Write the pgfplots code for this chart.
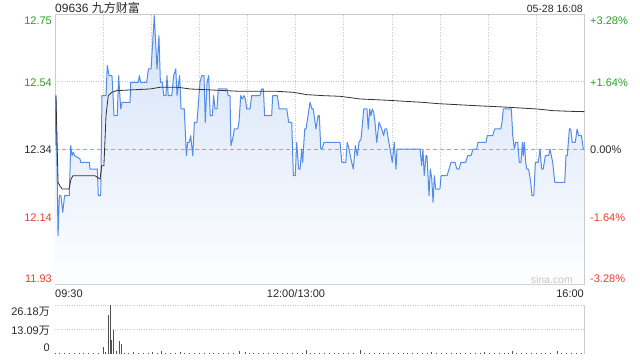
\documentclass[border=0pt]{standalone}
\usepackage{pgfplots}
\pgfplotsset{compat=1.18}
\usepackage{pgfplotstable}
\usepackage{fontspec}
\setmainfont{Liberation Sans}
\newfontfamily\cjk{Noto Sans CJK SC}
\definecolor{pline}{RGB}{82,140,232}
\definecolor{pfill}{RGB}{212,226,248}
\definecolor{avgline}{RGB}{50,50,50}
\definecolor{frame}{RGB}{204,204,204}
\definecolor{gridc}{RGB}{200,200,200}
\definecolor{basec}{RGB}{238,145,95}
\definecolor{upc}{RGB}{40,160,40}
\definecolor{downc}{RGB}{240,60,50}
\definecolor{txt}{RGB}{40,40,40}
\definecolor{volc}{RGB}{80,80,80}

\pgfplotstableread{
t p
0 12.35
0.6 12.50
1.9 12.08
2.7 12.20
3.7 12.20
4.8 12.15
6.0 12.20
8.9 12.20
9.8 12.35
10.6 12.32
11.4 12.33
12.3 12.32
15.6 12.31
16.0 12.30
21.4 12.30
21.8 12.28
26.4 12.28
27.0 12.20
28.5 12.20
29.3 12.50
31.8 12.50
32.6 12.59
33.7 12.56
35.5 12.56
36.2 12.50
36.8 12.44
38.8 12.44
39.7 12.56
40.3 12.51
41.0 12.46
41.8 12.48
46.8 12.48
47.2 12.54
51.9 12.54
52.6 12.56
53.4 12.54
57.2 12.54
58.2 12.58
59.9 12.58
61.9 12.74
63.6 12.58
64.8 12.68
65.7 12.54
66.9 12.54
67.8 12.50
69.2 12.50
69.8 12.56
70.6 12.50
72.8 12.50
74.0 12.56
75.3 12.58
76.1 12.50
77.7 12.56
78.6 12.46
80.6 12.46
81.9 12.32
82.7 12.36
83.7 12.36
84.6 12.38
85.9 12.32
86.9 12.42
88.5 12.42
90.4 12.54
91.5 12.56
92.9 12.56
93.7 12.42
94.8 12.54
95.8 12.56
96.8 12.44
98.1 12.44
98.9 12.50
99.8 12.46
101.0 12.46
101.8 12.52
107.2 12.52
108.0 12.50
109.1 12.50
109.7 12.35
111.2 12.38
111.8 12.40
113.9 12.40
114.7 12.42
115.8 12.50
116.8 12.49
117.8 12.50
118.7 12.49
119.5 12.46
121.6 12.46
122.6 12.50
127.8 12.50
128.9 12.52
129.9 12.52
130.7 12.44
135.1 12.44
135.7 12.50
138.6 12.50
139.8 12.46
144.5 12.46
145.7 12.42
147.6 12.42
148.6 12.26
149.8 12.26
150.7 12.36
151.9 12.28
152.8 12.28
153.8 12.34
154.4 12.30
155.7 12.40
156.5 12.40
159.0 12.48
160.2 12.46
161.0 12.46
162.7 12.40
164.0 12.44
164.8 12.44
165.7 12.34
166.5 12.34
167.7 12.36
177.7 12.36
178.8 12.30
181.3 12.30
182.2 12.36
183.3 12.34
184.5 12.31
186.0 12.28
187.2 12.35
188.5 12.32
189.5 12.36
190.8 12.37
191.6 12.41
192.5 12.46
194.5 12.46
195.3 12.40
196.2 12.46
197.0 12.44
197.8 12.46
198.7 12.45
199.5 12.42
200.6 12.36
202.0 12.42
203.7 12.40
204.9 12.38
205.7 12.40
206.8 12.40
207.8 12.37
208.9 12.34
210.3 12.30
211.5 12.36
212.6 12.28
213.2 12.34
227.6 12.34
228.6 12.29
229.4 12.34
230.2 12.26
231.3 12.32
231.9 12.32
233.2 12.20
234.0 12.28
234.9 12.25
235.7 12.18
236.5 12.26
237.4 12.22
240.0 12.22
240.7 12.26
244.4 12.26
245.7 12.28
246.9 12.30
249.4 12.30
250.5 12.28
251.9 12.28
253.1 12.30
256.1 12.30
257.3 12.32
259.4 12.32
260.6 12.34
262.9 12.34
263.7 12.36
268.7 12.36
269.5 12.38
272.9 12.38
274.1 12.40
277.9 12.40
278.7 12.42
279.5 12.46
284.5 12.46
285.4 12.38
286.4 12.34
287.2 12.36
288.5 12.36
289.5 12.30
290.5 12.30
291.4 12.36
292.0 12.32
292.6 12.36
293.5 12.30
294.1 12.28
295.3 12.28
296.6 12.24
297.4 12.20
298.5 12.20
299.5 12.30
301.3 12.30
302.4 12.34
303.4 12.28
304.4 12.28
305.7 12.32
307.8 12.32
308.6 12.34
310.3 12.30
311.6 12.24
317.8 12.24
318.6 12.32
319.4 12.32
320.7 12.40
321.5 12.40
322.5 12.36
324.4 12.36
325.5 12.40
326.5 12.38
328.2 12.38
329.4 12.34
330 12.34
}\pricetable

\pgfplotstableread{
t p
0.6 12.50
1.9 12.24
3.0 12.23
4.5 12.22
6.2 12.22
8.7 12.22
10.0 12.25
11.2 12.26
21.8 12.26
24.9 12.26
28.1 12.25
29.1 12.29
30.5 12.29
31.8 12.44
33.2 12.50
35.4 12.51
38.5 12.515
59.2 12.52
65.5 12.525
76.7 12.525
84.2 12.52
115.3 12.513
138.2 12.513
148.6 12.51
156.9 12.503
167.1 12.50
177.7 12.498
190.2 12.49
207.6 12.486
228.8 12.48
238.8 12.476
261.9 12.47
279.3 12.466
300.5 12.46
310.5 12.455
321.1 12.453
330 12.452
}\avgtable

\pgfplotstableread{
t v
0.5 0.8
3 0.5
6 0.6
9 0.4
12 0.7
15 0.5
18 0.6
21 0.5
24 0.8
27 0.6
30.1 3.8
31.5 0.9
33.2 20.8
34.5 26.18
35.1 7.3
36.3 12.7
38.0 1.5
40.1 6.7
41.3 5.6
43 0.8
46 0.6
49 0.9
52 0.7
55 0.5
58 0.8
61 1.0
64 0.7
66.5 1.5
69 0.6
72 0.8
75 0.5
78 0.9
81 0.6
84 0.7
87 0.5
90 0.8
93 0.6
96 0.7
99 0.5
102 0.6
105 0.8
108 0.5
111 0.7
115.3 1.5
118.5 1.2
121 0.8
124 0.6
127 0.5
130 0.7
133 0.6
136 0.5
139 0.8
142 0.6
145 0.5
148 0.7
151 0.6
154 0.5
156.5 2.0
159 0.6
162 0.8
165 0.5
168 0.6
171 0.7
174 0.5
177 0.8
180 0.6
183 0.7
186 0.5
190.2 2.0
193 0.6
196 0.8
199 0.5
202 0.7
205 0.6
208 0.8
211 0.5
214 0.6
217 0.7
220 0.5
223 0.6
226 0.8
229 0.5
232 0.7
235 0.9
238 0.6
241 0.5
244 0.7
247 0.6
250 0.8
253 0.5
256 0.6
259 0.7
262 0.5
265 0.8
268 1.2
271 0.6
274 0.7
277 0.5
280 0.8
283 0.6
285.4 1.5
288 0.7
291 0.8
294 0.6
297 0.7
300 0.5
303 0.8
306 0.6
309 0.7
313 1.5
316 0.6
319 0.8
322 0.5
325 0.7
328 0.6
}\voltable

\begin{document}
\begin{tikzpicture}[x=1pt,y=1pt]
\path[fill=white] (0,0) rectangle (640,360);

% main price panel
\begin{axis}[
  at={(55pt,76pt)}, anchor=south west,
  scale only axis, width=529.3pt, height=270pt,
  xmin=0, xmax=330, ymin=11.93525, ymax=12.74475,
  xtick={30,60,90,120,150,180,210,240,270,300},
  ytick={12.1376,12.5424},
  xticklabels={}, yticklabels={},
  major tick length=0pt,
  xmajorgrids, ymajorgrids,
  grid style={gridc, dotted, line width=0.6pt},
  axis line style={frame, line width=0.8pt},
  clip=true,
]
\addplot[draw=none, top color=pfill, bottom color=white!96!pfill] table[x=t,y=p]{\pricetable}
  -- (axis cs:330,11.93525) -- (axis cs:0,11.93525) -- cycle;
\addplot[basec, line width=0.8pt, dash pattern=on 4pt off 3pt, forget plot] coordinates {(0,12.34) (330,12.34)};
\addplot[pline, line width=1pt, line join=round] table[x=t,y=p]{\pricetable};
\addplot[avgline, line width=0.8pt] table[x=t,y=p]{\avgtable};
\end{axis}

% volume panel
\begin{axis}[
  at={(55pt,6pt)}, anchor=south west,
  scale only axis, width=529.3pt, height=49pt,
  xmin=0, xmax=330, ymin=0, ymax=26.18,
  xtick=\empty, ytick={13.09,26.18},
  yticklabels={},
  major tick length=0pt,
  ymajorgrids,
  grid style={gridc, dotted, line width=0.6pt},
  axis line style={draw=none},
  clip=false,
]
\addplot[ycomb, volc, line width=0.9pt] table[x=t,y=v]{\voltable};
\draw[frame, line width=0.8pt] (rel axis cs:1,0) -- (rel axis cs:1,1);
\end{axis}

% texts
\node[anchor=base west, inner sep=0, text=txt, font=\fontsize{12}{12}\selectfont] at (55,348) {09636 {\cjk 九方财富}};
\node[anchor=base east, inner sep=0, text=txt, font=\fontsize{10.5}{12}\selectfont] at (583,348) {05-28 16:08};

\begin{scope}[every node/.style={inner sep=0, font=\fontsize{11}{12}\selectfont}]
\node[anchor=base east, text=upc] at (52,336) {12.75};
\node[anchor=base east, text=upc] at (52,274) {12.54};
\node[anchor=base east, text=txt] at (52,206.7) {12.34};
\node[anchor=base east, text=downc] at (52,139) {12.14};
\node[anchor=base east, text=downc] at (52,78) {11.93};
\node[anchor=base west, text=upc] at (590,336) {+3.28\%};
\node[anchor=base west, text=upc] at (590,274) {+1.64\%};
\node[anchor=base west, text=txt] at (590,206.7) {0.00\%};
\node[anchor=base west, text=downc] at (590,139) {-1.64\%};
\node[anchor=base west, text=downc] at (590,78) {-3.28\%};
\node[anchor=base west, text=txt] at (55,62.7) {09:30};
\node[anchor=base, text=txt] at (296,62.7) {12:00/13:00};
\node[anchor=base east, text=txt] at (584,62.7) {16:00};
\node[anchor=base east, text=txt] at (50,45) {26.18{\cjk 万}};
\node[anchor=base east, text=txt] at (50,26) {13.09{\cjk 万}};
\node[anchor=base east, text=txt] at (50,8.3) {0};
\node[anchor=base east, text=gridc, font=\fontsize{10.5}{12}\selectfont] at (573,77) {sina.com};
\end{scope}
\end{tikzpicture}
\end{document}
